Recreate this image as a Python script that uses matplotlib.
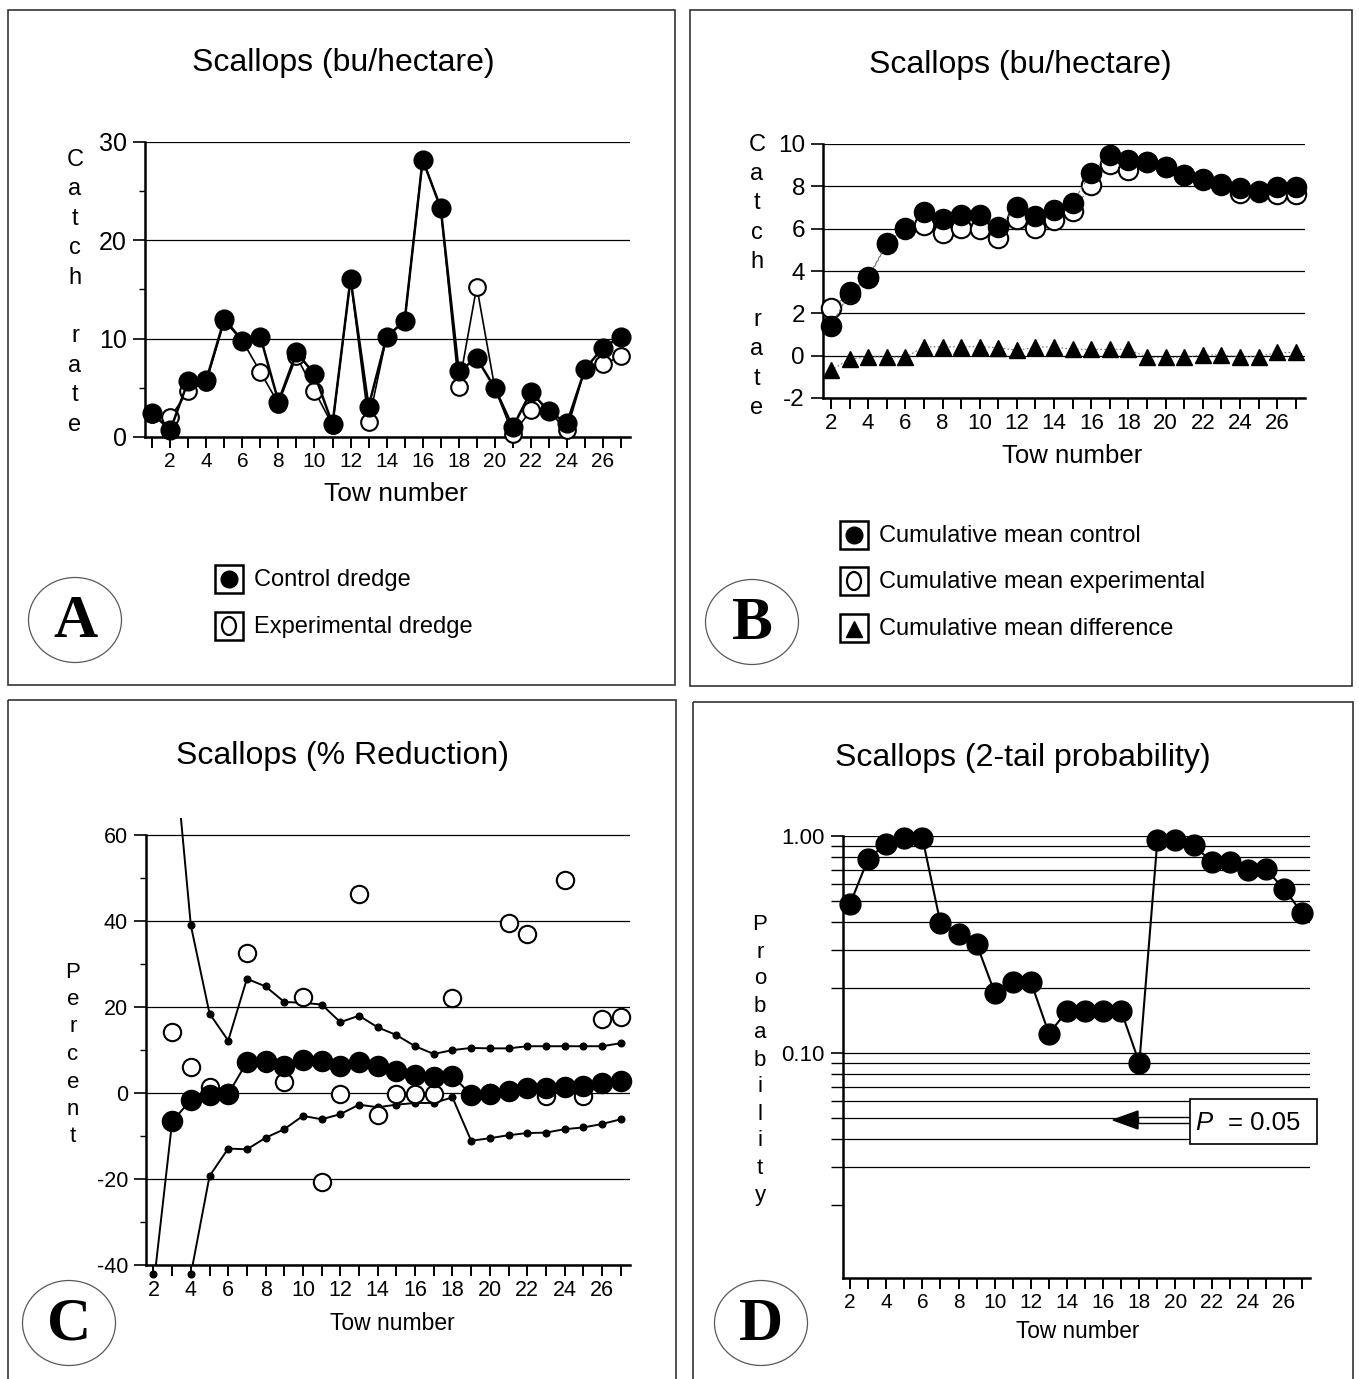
import numpy as np
import matplotlib
matplotlib.use("Agg")
import matplotlib.pyplot as plt
from matplotlib import font_manager
from matplotlib.patches import Rectangle, Ellipse, Polygon
from matplotlib.ticker import MultipleLocator, FixedLocator, FuncFormatter, NullFormatter

# ---------------- data ----------------
# A: catch rate per tow (bu/hectare)
tow_a = list(range(1, 28))
control_catch = [2.4, 0.7, 5.7, 5.8, 12.0, 9.8, 10.2, 3.6, 8.6, 6.4, 1.3, 16.1, 3.1, 10.2,
                 11.8, 28.2, 23.3, 6.7, 8.0, 5.0, 1.0, 4.6, 2.6, 1.4, 6.9, 9.1, 10.2]
exper_catch = [2.3, 2.0, 4.7, 5.6, 11.8, 9.8, 6.6, 3.4, 8.2, 4.7, 1.2, 16.1, 1.5, 10.2,
               11.8, 28.2, 23.3, 5.1, 15.3, 5.0, 0.3, 2.7, 2.6, 0.7, 6.9, 7.4, 8.2]

# B: cumulative means
tow_b = list(range(2, 28))
cum_control = [1.40, 2.99, 3.70, 5.31, 6.02, 6.80, 6.44, 6.65, 6.65, 6.06, 7.00, 6.60, 6.88,
               7.23, 8.65, 9.48, 9.24, 9.17, 8.93, 8.54, 8.33, 8.09, 7.90, 7.78, 7.95, 7.95]
cum_exper = [2.24, 2.93, 3.65, 5.27, 5.98, 6.15, 5.78, 6.05, 5.97, 5.58, 6.44, 6.02, 6.42,
             6.82, 8.06, 9.05, 8.75, 9.15, 8.92, 8.52, 8.32, 8.07, 7.67, 7.74, 7.62, 7.66]
cum_diff = [-0.70, -0.16, -0.05, -0.05, -0.08, 0.42, 0.42, 0.42, 0.42, 0.38, 0.25, 0.40, 0.42,
            0.30, 0.30, 0.30, 0.30, -0.08, -0.08, -0.08, 0.03, 0.03, -0.04, -0.04, 0.15, 0.15]

# C: percent reduction
tow_c = list(range(2, 28))
reduction_mean = [-45, -6.6, -1.6, -0.4, -0.2, 7.2, 7.4, 6.4, 7.7, 7.4, 6.2, 7.2, 6.2,
                  5.2, 4.2, 3.8, 4.0, -0.4, -0.2, 0.5, 1.2, 1.2, 1.5, 1.7, 2.3, 2.7]
reduction_upper = [np.nan, 86, 39, 18.5, 12.2, 26.6, 24.8, 21.2, 21.0, 20.6, 16.5, 18.0, 15.3,
                   13.5, 10.9, 9.1, 10.0, 10.5, 10.4, 10.4, 10.9, 10.9, 10.9, 10.9, 10.9, 11.6]
reduction_lower = [-42, -120, -42.2, -19.3, -12.9, -13.1, -10.4, -8.4, -5.3, -6.1, -4.9, -2.7, -3.3,
                   -2.7, -2.3, -2.3, -1.0, -11.1, -10.5, -9.8, -9.3, -9.2, -8.4, -8.0, -7.2, -6.1]
reduction_tow = [-167, 14.2, 6.0, 1.3, 0.0, 32.6, 7.0, 2.6, 22.3, -20.6, -0.2, 46.3, -5.1,
                 -0.2, -0.2, -0.2, 22.2, -91, 0.0, 39.6, 37.1, -0.6, 49.6, -0.6, 17.3, 17.8]

# D: two-tailed probability
tow_d = list(range(2, 28))
two_tail_p = [0.486, 0.785, 0.922, 0.982, 0.982, 0.397, 0.354, 0.318, 0.190, 0.213, 0.213, 0.123,
              0.156, 0.156, 0.156, 0.156, 0.090, 0.958, 0.958, 0.908, 0.761, 0.761, 0.694, 0.701,
              0.572, 0.442]

# ---------------- fonts ----------------
installed = {f.name for f in font_manager.fontManager.ttflist}
if "Liberation Sans Narrow" in installed:
    NARROW, STRETCH = "Liberation Sans Narrow", 1 / 0.82
else:
    NARROW, STRETCH = "Liberation Sans", 1.0
SANS = "Liberation Sans"
SERIF = "Liberation Serif"
plt.rcParams["font.family"] = SANS
plt.rcParams["text.color"] = "black"
plt.rcParams["axes.unicode_minus"] = False

W, H = 1359, 1379
fig = plt.figure(figsize=(W / 100, H / 100), dpi=100)
fig.patch.set_facecolor("white")


def axes_px(left, top, right, bottom):
    return fig.add_axes([left / W, 1 - bottom / H, (right - left) / W, (bottom - top) / H])


def even_only(v, pos):
    n = int(round(v))
    return str(n) if n % 2 == 0 else ""


def base_style(ax, xsize, ysize):
    ax.set_facecolor("none")
    for s in ("top", "right"):
        ax.spines[s].set_visible(False)
    for s in ("left", "bottom"):
        ax.spines[s].set_linewidth(1.8)
    ax.xaxis.set_major_locator(MultipleLocator(1))
    ax.xaxis.set_major_formatter(FuncFormatter(even_only))
    ax.tick_params(axis="x", which="both", direction="out", length=8, width=1.4, pad=3,
                   labelsize=xsize)
    ax.tick_params(axis="y", which="major", direction="out", length=9, width=1.2, pad=4,
                   labelsize=ysize)
    ax.tick_params(axis="y", which="minor", direction="out", length=4, width=1.0)
    ax.set_axisbelow(True)


# ---------------- panel A ----------------
axA = axes_px(145, 142, 630, 437)
base_style(axA, 15, 18)
axA.set_xlim(0.6, 27.5)
axA.set_ylim(0, 30)
axA.set_yticks([0, 10, 20, 30])
axA.yaxis.set_minor_locator(FixedLocator([5, 15, 25]))
axA.yaxis.grid(True, which="major", color="black", lw=0.9)
axA.plot(tow_a, exper_catch, "-o", color="black", lw=1.2, ms=12, mfc="white", mew=1.5,
         clip_on=False, zorder=3)
axA.plot(tow_a, control_catch, "-o", color="black", lw=1.8, ms=13.5, clip_on=False, zorder=4)

# ---------------- panel B ----------------
axB = axes_px(823, 144, 1305, 398)
base_style(axB, 16, 17.5)
axB.set_xlim(1.57, 27.5)
axB.set_ylim(-2, 10)
axB.set_yticks(range(-2, 11, 2))
axB.yaxis.grid(True, which="major", color="black", lw=0.9)
axB.plot(tow_b, cum_diff, "^", ls=(0, (1.5, 2)), color="0.45", lw=0.8, ms=12,
         mfc="black", mec="black", clip_on=False, zorder=3)
axB.plot(tow_b, cum_exper, "o", ls=(0, (3, 2)), color="0.45", lw=0.8, ms=14, mfc="white",
         mec="black", mew=1.5, clip_on=False, zorder=3)
axB.plot(tow_b, cum_control, "o", ls=(0, (3, 2)), color="0.45", lw=0.8, ms=14.5, mfc="black",
         mec="black", clip_on=False, zorder=4)

# ---------------- panel C ----------------
axC = axes_px(146, 818, 630, 1265)
base_style(axC, 15.5, 15.5)
axC.set_xlim(1.6, 27.5)
axC.set_ylim(-40, 64)
axC.spines["left"].set_bounds(-40, 60)
axC.set_yticks(range(-40, 61, 20))
axC.yaxis.set_minor_locator(FixedLocator([-30, -10, 10, 30, 50]))
axC.yaxis.grid(True, which="major", color="black", lw=0.9)


def visible(vals, lo=-43, hi=64):
    arr = np.ma.masked_invalid(np.asarray(vals, dtype=float))
    return np.ma.masked_outside(arr, lo, hi)


axC.plot(tow_c, reduction_upper, "-", color="black", lw=1.4, zorder=3)
axC.plot(tow_c, reduction_lower, "-", color="black", lw=1.4, zorder=3)
axC.plot(tow_c, visible(reduction_upper), "o", ls="none", ms=4.8, color="black",
         clip_on=False, zorder=3)
axC.plot(tow_c, visible(reduction_lower), "o", ls="none", ms=4.8, color="black",
         clip_on=False, zorder=3)
axC.plot(tow_c, visible(reduction_tow), "o", ls="none", ms=12.5, mfc="white", mec="black",
         mew=1.5, clip_on=False, zorder=4)
axC.plot(tow_c, reduction_mean, "-", color="black", lw=1.4, zorder=5)
axC.plot(tow_c, visible(reduction_mean, -40, 64), "o", ls="none", ms=14.5, color="black",
         clip_on=False, zorder=5)

# ---------------- panel D ----------------
axD = axes_px(843, 836, 1310, 1278)
base_style(axD, 15, 16)
axD.set_xlim(1.61, 27.44)
axD.set_yscale("log")
axD.set_ylim(0.0092, 1.0)
axD.yaxis.set_major_locator(FixedLocator([0.1, 1.0]))
axD.yaxis.set_major_formatter(FuncFormatter(lambda v, p: f"{v:.2f}"))
minor_p = [0.02, 0.03, 0.04, 0.05, 0.06, 0.07, 0.08, 0.09,
           0.2, 0.3, 0.4, 0.5, 0.6, 0.7, 0.8, 0.9]
axD.yaxis.set_minor_locator(FixedLocator(minor_p))
axD.yaxis.set_minor_formatter(NullFormatter())
axD.tick_params(axis="y", which="minor", length=9, width=1.0)
for level in [0.03, 0.04, 0.05, 0.06, 0.07, 0.08, 0.09,
              0.1, 0.2, 0.3, 0.4, 0.5, 0.6, 0.7, 0.8, 0.9, 1.0]:
    axD.axhline(level, color="black", lw=0.9, zorder=1)
axD.plot(tow_d, two_tail_p, "-o", color="black", lw=1.5, ms=15, clip_on=False, zorder=4)

# ---------------- overlay: frames, titles, labels, legends ----------------
ov = fig.add_axes([0, 0, 1, 1])
ov.set_xlim(0, W)
ov.set_ylim(H, 0)
ov.axis("off")

for (x0, y0, w, h) in [(8, 10, 667, 675), (690, 10, 662, 676),
                       (8, 700, 668, 700), (693, 702, 660, 700)]:
    ov.add_patch(Rectangle((x0, y0), w, h, fill=False, lw=1.2, ec="0.2"))

title_size = 23 * STRETCH
ov.text(343, 63, "Scallops (bu/hectare)", ha="center", va="center", family=NARROW, size=title_size)
ov.text(1020, 65, "Scallops (bu/hectare)", ha="center", va="center", family=NARROW, size=title_size)
ov.text(342, 756, "Scallops (% Reduction)", ha="center", va="center", family=NARROW, size=title_size)
ov.text(1023, 758, "Scallops (2-tail probability)", ha="center", va="center", family=NARROW,
        size=title_size)

ov.text(396, 494, "Tow number", ha="center", va="center", family=NARROW, size=19 * STRETCH)
ov.text(1072, 456, "Tow number", ha="center", va="center", family=NARROW, size=18.5 * STRETCH)
ov.text(392, 1323, "Tow number", ha="center", va="center", family=NARROW, size=16.5 * STRETCH)
ov.text(1078, 1331, "Tow number", ha="center", va="center", family=NARROW, size=16.3 * STRETCH)


def stacked(word, x, y0, step, size):
    for i, ch in enumerate(word):
        if ch != " ":
            ov.text(x, y0 + i * step, ch, ha="center", va="center", family=SANS, size=size)


stacked("Catch rate", 75, 160, 29.4, 17)
stacked("Catch rate", 757, 145, 29.2, 17)
stacked("Percent", 73, 972, 27.5, 16)
stacked("Probability", 760, 925, 27.0, 16)


def legend_entry(cx, cy, kind, label):
    ov.add_patch(Rectangle((cx - 14, cy - 14), 28, 28, fill=False, lw=1.8, ec="black"))
    if kind == "filled":
        ov.plot([cx], [cy], "o", ms=12, color="black")
    elif kind == "open":
        ov.add_patch(Ellipse((cx, cy), 14, 18, fill=False, lw=1.6, ec="black"))
    else:
        ov.plot([cx], [cy + 1], "^", ms=12, color="black")
    ov.text(cx + 25, cy + 1, label, ha="left", va="center", family=NARROW, size=17 * STRETCH)


legend_entry(229, 579, "filled", "Control dredge")
legend_entry(229, 626, "open", "Experimental dredge")
legend_entry(854, 535, "filled", "Cumulative mean control")
legend_entry(854, 581, "open", "Cumulative mean experimental")
legend_entry(854, 628, "triangle", "Cumulative mean difference")

for (cx, cy, letter) in [(75, 620, "A"), (752, 622, "B"), (69, 1323, "C"), (761, 1323, "D")]:
    ov.add_patch(Ellipse((cx, cy), 93, 85, fill=False, lw=0.9, ec="0.35"))
    ov.text(cx, cy + 2, letter, ha="center", va="center", family=SERIF, weight="bold", size=44)

# P = 0.05 marker on panel D
ov.add_patch(Polygon([(1113, 1120), (1138, 1111), (1138, 1129)], closed=True,
                     fc="black", ec="black"))
ov.add_patch(Rectangle((1138, 1117), 52, 6, fc="white", ec="black", lw=1.0))
ov.add_patch(Rectangle((1190, 1099), 127, 45, fc="white", ec="black", lw=1.2))
ov.text(1195, 1123, "P", ha="left", va="center", family=SANS, style="italic", size=18.5)
ov.text(1228, 1123, "= 0.05", ha="left", va="center", family=SANS, size=18.5)

fig.savefig("out.png", dpi=100, facecolor="white")
